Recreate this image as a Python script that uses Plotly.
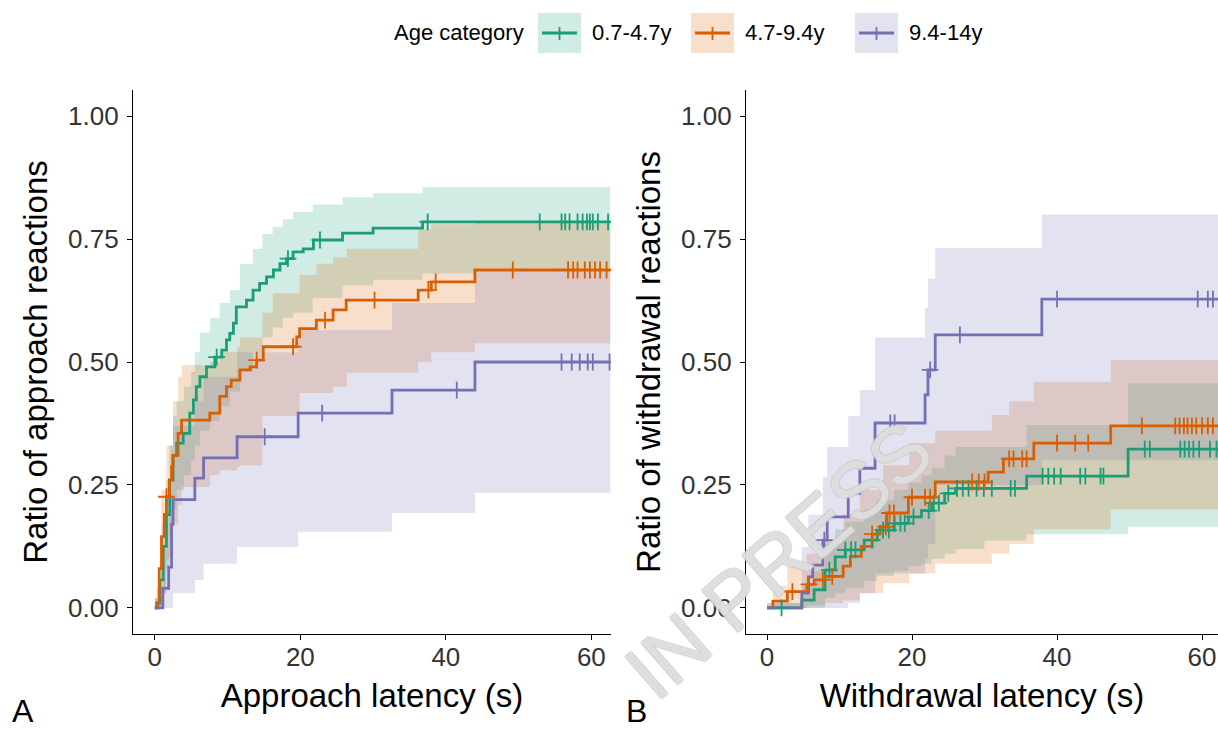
import numpy as np
import plotly.graph_objects as go

# ---------------- data ----------------
groups = ["0.7-4.7y", "4.7-9.4y", "9.4-14y"]
colors = ["#1B9E77", "#D95F02", "#7570B3"]
bands = ["rgba(27,158,119,0.2)", "rgba(217,95,2,0.2)", "rgba(117,112,179,0.2)"]

# Panel A: approach latency (s), cumulative ratio of approach reactions
appr_end = 62.6
appr_t = [
    [0, 0.4, 0.7, 1.15, 1.6, 2.05, 2.5, 3.0, 3.9, 4.8, 5.3, 5.7, 6.2, 7.1, 8.25, 9.2, 9.85,
     10.3, 10.8, 11.2, 12.6, 13.5, 14.4, 15.35, 16.3, 17.2, 18.1, 19.0, 20.4, 21.8, 25.8, 30.0, 36.8],
    [0, 0.25, 0.6, 0.92, 1.3, 1.6, 2.0, 2.3, 2.5, 3.2, 3.67, 7.56, 8.93, 9.85, 10.5, 11.7, 13.1,
     14.0, 14.9, 19.5, 19.9, 22.2, 24.5, 26.3, 36.2, 38.0, 44.0],
    [0, 1.1, 1.9, 2.3, 2.5, 5.5, 6.7, 11.3, 19.7, 32.6, 44.0],
]
appr_y = [
    [0, 0.01, 0.057, 0.125, 0.19, 0.26, 0.31, 0.335, 0.355, 0.396, 0.423, 0.45, 0.47, 0.49, 0.51,
     0.524, 0.545, 0.558, 0.579, 0.612, 0.626, 0.646, 0.66, 0.673, 0.687, 0.70, 0.71, 0.724, 0.73,
     0.748, 0.762, 0.772, 0.785],
    [0, 0.01, 0.08, 0.145, 0.19, 0.226, 0.26, 0.287, 0.31, 0.355, 0.382, 0.396, 0.43, 0.45, 0.463,
     0.484, 0.49, 0.504, 0.531, 0.551, 0.568, 0.585, 0.606, 0.626, 0.646, 0.663, 0.687],
    [0, 0.04, 0.083, 0.17, 0.22, 0.264, 0.305, 0.348, 0.396, 0.443, 0.50],
]
appr_cens = [
    [8.5, 18.3, 22.7, 37.5, 52.9, 55.9, 56.4, 57.0, 58.1, 58.8, 59.4, 59.8, 60.2, 60.9, 62.3],
    [1.6, 14.0, 19.0, 23.4, 30.2, 37.6, 38.6, 49.2, 56.8, 57.5, 58.1, 59.1, 59.8, 60.5, 61.2, 62.1],
    [15.1, 23.0, 41.5, 55.9, 57.3, 58.4, 59.5, 60.2, 62.5],
]
appr_band_t = [
    [0, 0.5, 1.0, 1.5, 2.0, 2.5, 3.0, 4.0, 5.0, 5.5, 6.2, 7.6, 8.9, 10.3, 11.7, 13.5, 14.8, 16.2,
     17.6, 19.0, 21.7, 25.8, 30.0, 36.8, 44.0],
    [0, 0.25, 0.9, 1.6, 2.5, 3.2, 3.7, 5.9, 7.6, 8.9, 11.3, 11.7, 14.8, 16.2, 19.9, 22.2, 24.5,
     26.4, 31.0, 36.2, 38.0, 44.0],
    [0, 1.1, 1.9, 2.3, 2.5, 5.5, 6.7, 11.3, 19.7, 32.6, 44.0],
]
appr_lo = [
    [0, 0, 0.03, 0.08, 0.14, 0.20, 0.24, 0.27, 0.30, 0.33, 0.36, 0.38, 0.41, 0.44, 0.48, 0.52, 0.55,
     0.57, 0.59, 0.60, 0.63, 0.656, 0.667, 0.68, 0.69],
    [0, 0, 0.03, 0.10, 0.17, 0.21, 0.246, 0.246, 0.27, 0.28, 0.287, 0.29, 0.39, 0.39, 0.437, 0.437,
     0.45, 0.478, 0.478, 0.50, 0.52, 0.538],
    [0, 0, 0, 0, 0.03, 0.057, 0.09, 0.124, 0.155, 0.193, 0.234],
]
appr_hi = [
    [0.02, 0.08, 0.17, 0.26, 0.33, 0.39, 0.42, 0.45, 0.48, 0.52, 0.56, 0.59, 0.62, 0.646, 0.70, 0.73,
     0.76, 0.775, 0.79, 0.805, 0.82, 0.835, 0.843, 0.856, 0.856],
    [0.01, 0.04, 0.24, 0.33, 0.42, 0.47, 0.494, 0.494, 0.50, 0.52, 0.53, 0.55, 0.60, 0.64, 0.677,
     0.70, 0.713, 0.73, 0.73, 0.77, 0.78, 0.785],
    [0.02, 0.12, 0.19, 0.32, 0.37, 0.42, 0.47, 0.52, 0.565, 0.62, 0.687],
]

# Panel B: withdrawal latency (s), cumulative ratio of withdrawal reactions
wd_end = 63.5
wd_t = [
    [0, 4.8, 6.5, 8.0, 9.4, 10.8, 13.4, 15.2, 17.5, 19.5, 21.3, 22.7, 24.5, 26.0, 35.8, 49.8],
    [0, 0.8, 2.8, 5.5, 6.5, 8.0, 10.5, 11.5, 13.0, 14.5, 15.6, 16.5, 19.5, 23.2, 30.5, 32.6, 36.8, 47.4],
    [0, 4.8, 5.7, 6.3, 7.7, 8.3, 11.2, 12.8, 14.9, 21.8, 22.2, 23.2, 37.9],
]
wd_y = [
    [0, 0.016, 0.037, 0.077, 0.104, 0.118, 0.138, 0.158, 0.172, 0.185, 0.198, 0.213, 0.233, 0.243,
     0.268, 0.323],
    [0, 0.014, 0.033, 0.048, 0.057, 0.064, 0.085, 0.105, 0.125, 0.15, 0.165, 0.193, 0.225, 0.256,
     0.276, 0.303, 0.335, 0.37],
    [0, 0.03, 0.063, 0.087, 0.138, 0.185, 0.233, 0.284, 0.376, 0.433, 0.484, 0.555, 0.628],
]
wd_cens = [
    [2.0, 8.6, 10.8, 11.6, 12.2, 14.5, 16.0, 16.8, 17.6, 18.4, 19.0, 20.2, 22.3, 23.0, 23.7, 25.0,
     26.2, 27.0, 27.8, 28.9, 29.9, 31.0, 33.6, 34.2, 38.0, 38.8, 39.6, 40.5, 43.2, 43.9, 46.0, 46.4,
     52.1, 52.8, 57.0, 57.6, 58.2, 58.8, 59.6, 61.1, 62.0],
    [3.5, 5.8, 7.7, 9.0, 14.5, 16.4, 16.9, 17.5, 20.0, 21.8, 22.5, 28.3, 29.2, 30.0, 33.4, 34.0,
     35.2, 35.8, 40.0, 42.5, 44.3, 51.7, 56.3, 56.9, 57.5, 58.0, 58.6, 59.2, 60.0, 60.8, 61.5],
    [7.9, 17.0, 17.6, 22.5, 26.6, 40.0, 59.4, 60.8, 61.5],
]
wd_band_t = [
    [0, 4.8, 6.5, 8.0, 9.4, 10.8, 13.4, 15.2, 17.5, 19.5, 21.3, 22.7, 24.5, 26.0, 30.0, 35.8, 49.8],
    [0, 0.8, 2.8, 5.5, 8.0, 10.5, 12.8, 16.0, 19.6, 23.2, 31.0, 33.4, 36.8, 47.4],
    [0, 4.8, 5.7, 7.7, 8.3, 11.2, 12.8, 14.9, 21.8, 22.2, 23.2, 37.9],
]
wd_lo = [
    [0, 0, 0, 0.02, 0.03, 0.04, 0.055, 0.065, 0.075, 0.085, 0.09, 0.10, 0.11, 0.12, 0.137, 0.15, 0.165],
    [0, 0, 0, 0.005, 0.01, 0.015, 0.03, 0.05, 0.07, 0.09, 0.11, 0.13, 0.16, 0.20],
    [0, 0, 0, 0, 0, 0.01, 0.03, 0.07, 0.10, 0.13, 0.25, 0.30],
]
wd_hi = [
    [0.01, 0.045, 0.075, 0.13, 0.16, 0.175, 0.20, 0.22, 0.24, 0.255, 0.27, 0.285, 0.31, 0.327, 0.327,
     0.372, 0.457],
    [0.0, 0.045, 0.085, 0.11, 0.14, 0.19, 0.24, 0.29, 0.335, 0.36, 0.392, 0.42, 0.46, 0.504],
    [0.01, 0.124, 0.19, 0.266, 0.327, 0.39, 0.443, 0.55, 0.61, 0.67, 0.732, 0.80],
]

y_ticks = [0, 0.25, 0.5, 0.75, 1.0]
y_tick_text = ["0.00", "0.25", "0.50", "0.75", "1.00"]
x_ticks = [0, 20, 40, 60]

FONT = "Liberation Sans, Arial, sans-serif"
W, H = 1218, 730


def px(x):
    return x / W


def py(y):
    return 1 - y / H


def extend(t, v, end):
    """Append the end time so the last step runs to the end of follow-up."""
    return list(t) + [end], list(v) + [v[-1]]


def value_at(t, v, x):
    idx = np.searchsorted(np.asarray(t), np.asarray(x), side="right") - 1
    return np.asarray(v)[idx]


fig = go.Figure()


def add_panel(xa, ya, band_t, lo, hi, t, y, cens, end):
    # confidence ribbons first
    for g in range(3):
        bx, blo = extend(band_t[g], lo[g], end)
        _, bhi = extend(band_t[g], hi[g], end)
        fig.add_trace(go.Scatter(x=bx, y=blo, mode="lines", line=dict(width=0, shape="hv"),
                                 xaxis=xa, yaxis=ya, showlegend=False, hoverinfo="skip"))
        fig.add_trace(go.Scatter(x=bx, y=bhi, mode="lines", line=dict(width=0, shape="hv"),
                                 fill="tonexty", fillcolor=bands[g],
                                 xaxis=xa, yaxis=ya, showlegend=False, hoverinfo="skip"))
    # step curves
    for g in range(3):
        lx, ly = extend(t[g], y[g], end)
        fig.add_trace(go.Scatter(x=lx, y=ly, mode="lines", name=groups[g],
                                 line=dict(color=colors[g], width=2.8, shape="hv"),
                                 xaxis=xa, yaxis=ya, showlegend=False))
    # censoring marks
    for g in range(3):
        fig.add_trace(go.Scatter(x=cens[g], y=value_at(t[g], y[g], cens[g]), mode="markers",
                                 name=groups[g],
                                 marker=dict(symbol="cross-thin", size=12,
                                             line=dict(color=colors[g], width=1.8)),
                                 xaxis=xa, yaxis=ya, showlegend=False))


add_panel("x", "y", appr_band_t, appr_lo, appr_hi, appr_t, appr_y, appr_cens, appr_end)
add_panel("x2", "y2", wd_band_t, wd_lo, wd_hi, wd_t, wd_y, wd_cens, wd_end)

axis_common = dict(
    showline=True, linecolor="black", linewidth=1.4, ticks="outside", ticklen=5,
    tickcolor="black", tickwidth=1.2, showgrid=False, zeroline=False,
    tickfont=dict(family=FONT, size=26, color="#333333"),
    title_font=dict(family=FONT, size=33, color="black"),
)
x_extra = dict(ticklabelstandoff=-5, tickvals=x_ticks)
y_extra = dict(ticklabelstandoff=3, tickvals=y_ticks, ticktext=y_tick_text,
               range=[-0.053, 1.053], domain=[py(634), py(90)])

fig.update_layout(
    width=W, height=H,
    margin=dict(l=0, r=0, t=0, b=0),
    paper_bgcolor="white", plot_bgcolor="white",
    font=dict(family=FONT),
    showlegend=False,
    xaxis=dict(domain=[px(133), px(611)], range=[-3.0, 62.7], anchor="y",
               title=dict(text="Approach latency (s)", standoff=12), **x_extra, **axis_common),
    yaxis=dict(anchor="x", title=dict(text="Ratio of approach reactions", standoff=10),
               **y_extra, **axis_common),
    xaxis2=dict(domain=[px(746), 1.0], range=[-2.9, 62.2], anchor="y2",
                title=dict(text="Withdrawal latency (s)", standoff=12), **x_extra, **axis_common),
    yaxis2=dict(anchor="x2", title=dict(text="Ratio of withdrawal reactions", standoff=10),
                **y_extra, **axis_common),
)

# legend drawn along the top: title, key boxes with line and censor tick, labels
leg_y = 33
fig.add_annotation(text="Age category", x=px(526), y=py(leg_y), xref="paper", yref="paper",
                   xanchor="right", yanchor="middle", showarrow=False,
                   font=dict(family=FONT, size=22, color="black"))
key_left = [538, 691, 855]
for g in range(3):
    x0, x1 = key_left[g], key_left[g] + 43
    fig.add_shape(type="rect", xref="paper", yref="paper", x0=px(x0), x1=px(x1),
                  y0=py(leg_y + 20), y1=py(leg_y - 20), fillcolor=bands[g], line_width=0)
    fig.add_shape(type="line", xref="paper", yref="paper", x0=px(x0 + 4), x1=px(x1 - 4),
                  y0=py(leg_y), y1=py(leg_y), line=dict(color=colors[g], width=2.8))
    fig.add_shape(type="line", xref="paper", yref="paper", x0=px((x0 + x1) / 2),
                  x1=px((x0 + x1) / 2), y0=py(leg_y - 6), y1=py(leg_y + 7),
                  line=dict(color=colors[g], width=1.8))
    fig.add_annotation(text=groups[g], x=px(x1 + 9), y=py(leg_y), xref="paper", yref="paper",
                       xanchor="left", yanchor="middle", showarrow=False,
                       font=dict(family=FONT, size=22, color="black"))

# panel letters
fig.add_annotation(text="A", x=px(23), y=py(711), xref="paper", yref="paper",
                   xanchor="center", yanchor="middle", showarrow=False, borderpad=0,
                   font=dict(family=FONT, size=32, color="black"))
fig.add_annotation(text="B", x=px(636), y=py(711), xref="paper", yref="paper",
                   xanchor="center", yanchor="middle", showarrow=False, borderpad=0,
                   font=dict(family=FONT, size=32, color="black"))

# diagonal watermark
fig.add_annotation(text="IN PRESS", x=px(778), y=py(560), xref="paper", yref="paper",
                   xanchor="center", yanchor="middle", showarrow=False, textangle=-41,
                   borderpad=0,
                   font=dict(family=FONT, size=80, color="rgba(240,240,240,0.55)",
                             shadow="1px 1px 0 #c4c4c4, -1px -1px 0 #c4c4c4, "
                                    "1px -1px 0 #c4c4c4, -1px 1px 0 #c4c4c4"))

fig.write_html("out.html")
